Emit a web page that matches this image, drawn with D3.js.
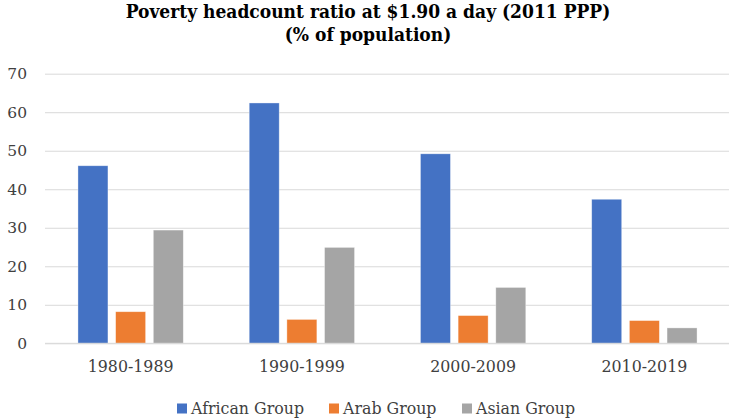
<!DOCTYPE html>
<html><head><meta charset="utf-8">
<script src="https://cdn.jsdelivr.net/npm/d3@7"></script>
<style>body{margin:0;background:#fff}svg{display:block}</style>
</head><body>
<script>
const categories = ["1980-1989","1990-1999","2000-2009","2010-2019"];
const seriesNames = ["African Group","Arab Group","Asian Group"];
const african = [46.1, 62.4, 49.2, 37.4];
const arab = [8.2, 6.2, 7.2, 5.9];
const asian = [29.4, 24.9, 14.5, 4.0];
const yTicks = [0,10,20,30,40,50,60,70];
const titleLines = ["Poverty headcount ratio at $1.90 a day (2011 PPP)","(% of population)"];
const colors = ["#4472C4","#ED7D31","#A5A5A5"];

const W=729,H=419;
const svg=d3.select("body").append("svg").attr("width",W).attr("height",H);
const serif="'DejaVu Serif', serif";
const x0=d3.scaleBand().domain(categories).range([45,730]).paddingInner(0).paddingOuter(0);
const x1=d3.scaleBand().domain(seriesNames).range([0,x0.bandwidth()]).paddingInner(0.204).paddingOuter(0.875);
const y=d3.scaleLinear().domain([0,70]).range([343.3,73.7]);

// gridlines
const yAxis=d3.axisLeft(y).tickValues(yTicks).tickSize(-(729-45)).tickFormat(d3.format("d"));
const gy=svg.append("g").attr("transform","translate(45,0)").call(yAxis);
gy.select(".domain").remove();
gy.selectAll(".tick line").attr("stroke","#D9D9D9").attr("stroke-width",1);
gy.selectAll(".tick text").attr("x",-18).attr("font-family",serif).attr("font-size",15.5).attr("fill","#404040");

const data=[african,arab,asian];
const g=svg.append("g");
categories.forEach((c,i)=>{
  seriesNames.forEach((s,j)=>{
    g.append("rect").attr("x",x0(c)+x1(s)).attr("y",y(data[j][i]))
     .attr("width",x1.bandwidth()).attr("height",y(0)-y(data[j][i]))
     .attr("fill",colors[j]).attr("stroke","#fff").attr("stroke-opacity",0.5).attr("stroke-width",0.7);
  });
});

const xAxis=d3.axisBottom(x0).tickSize(0).tickPadding(17);
const gx=svg.append("g").attr("transform","translate(0,343.3)").call(xAxis);
gx.select(".domain").attr("stroke","#D9D9D9").attr("d","M45,0H729");
gx.selectAll(".tick text").attr("font-family",serif).attr("font-size",15.8).attr("fill","#404040");

// title
svg.selectAll(".title").data(titleLines).enter().append("text")
  .attr("x",368).attr("y",(d,i)=>18+i*23).attr("text-anchor","middle")
  .attr("font-family","'DejaVu Serif Condensed', 'DejaVu Serif', serif").attr("font-weight","bold")
  .attr("font-stretch","condensed").attr("font-size",19).attr("fill","#000").text(d=>d);

// legend
const legX=[177,329,462];
const lg=svg.append("g");
seriesNames.forEach((s,j)=>{
  lg.append("rect").attr("x",legX[j]).attr("y",403.5).attr("width",10).attr("height",10).attr("fill",colors[j]);
  lg.append("text").attr("x",legX[j]+14).attr("y",408).attr("dy","0.35em")
    .attr("font-family",serif).attr("font-size",15.8).attr("fill","#404040").text(s);
});
</script>
</body></html>
